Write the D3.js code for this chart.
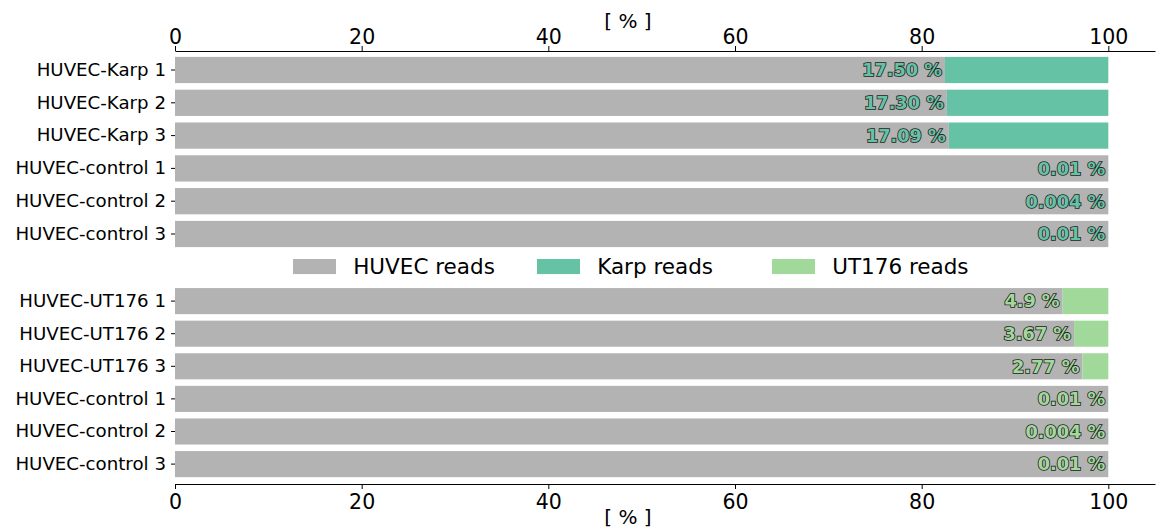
<!DOCTYPE html>
<html><head><meta charset="utf-8">
<script src="https://cdn.jsdelivr.net/npm/d3@7"></script>
<style>
body{margin:0;background:#fff;}
svg{display:block;font-family:"DejaVu Sans",sans-serif;}
</style></head>
<body><svg id="chart" width="1170" height="532"></svg>
<script>
const topCategories = ["HUVEC-Karp 1","HUVEC-Karp 2","HUVEC-Karp 3","HUVEC-control 1","HUVEC-control 2","HUVEC-control 3"];
const karpValues = [17.50, 17.30, 17.09, 0.01, 0.004, 0.01];
const karpLabels = ["17.50 %","17.30 %","17.09 %","0.01 %","0.004 %","0.01 %"];
const bottomCategories = ["HUVEC-UT176 1","HUVEC-UT176 2","HUVEC-UT176 3","HUVEC-control 1","HUVEC-control 2","HUVEC-control 3"];
const ut176Values = [4.9, 3.67, 2.77, 0.01, 0.004, 0.01];
const ut176Labels = ["4.9 %","3.67 %","2.77 %","0.01 %","0.004 %","0.01 %"];
const xTicks = [0, 20, 40, 60, 80, 100];
const legendLabels = ["HUVEC reads","Karp reads","UT176 reads"];

const colHuvec = "#b3b3b3", colKarp = "#66c2a5", colUT = "#a1d99b";
const svg = d3.select("#chart");
const x = d3.scaleLinear().domain([0, 105]).range([175, 1155]);

function panel(cats, vals, labels, color, yRange, axisY, axisTop) {
  const y = d3.scaleBand().domain(cats).range(yRange).paddingInner(0.2).paddingOuter(0.1);
  const g = svg.append("g");
  cats.forEach((c, i) => {
    const v = vals[i];
    const h = 100 - v;
    g.append("rect").attr("x", x(0)).attr("y", y(c)).attr("width", x(h) - x(0)).attr("height", y.bandwidth()).attr("fill", colHuvec);
    g.append("rect").attr("x", x(h)).attr("y", y(c)).attr("width", x(100) - x(h)).attr("height", y.bandwidth()).attr("fill", color);
    g.append("text").attr("x", x(h) - 3).attr("y", y(c) + y.bandwidth() / 2).attr("dy", "0.36em")
      .attr("text-anchor", "end").attr("font-weight", "bold").attr("font-size", 17.7)
      .attr("fill", color).attr("stroke", "#222").attr("stroke-width", 1.6).attr("paint-order", "stroke")
      .text(labels[i]);
  });
  const yAxis = d3.axisLeft(y).tickSize(4).tickPadding(5);
  const ya = svg.append("g").attr("transform", `translate(${x(0)},0)`).call(yAxis);
  ya.select(".domain").remove();
  ya.selectAll("text").attr("font-size", 18.2).attr("font-family", "DejaVu Sans").attr("fill", "#000");
  ya.selectAll("line").attr("stroke", "#000");
  const xAxis = (axisTop ? d3.axisTop(x) : d3.axisBottom(x)).tickValues(xTicks).tickSize(5).tickPadding(axisTop ? 2 : 5).tickSizeOuter(0);
  const xa = svg.append("g").attr("transform", `translate(0,${axisY})`).call(xAxis);
  xa.selectAll("text").attr("font-size", 20.5).attr("font-family", "DejaVu Sans").attr("fill", "#000");
  xa.select(".domain").attr("stroke", "#000").attr("stroke-width", 1.2);
  xa.selectAll("line").attr("stroke", "#000");
  svg.append("text").attr("x", 628).attr("y", axisTop ? 28 : 524).attr("text-anchor", "middle")
    .attr("font-size", 20).attr("fill", "#000").text("[ % ]");
}

panel(topCategories, karpValues, karpLabels, colKarp, [53.6, 250.4], 51, true);
panel(bottomCategories, ut176Values, ut176Labels, colUT, [284.8, 480.4], 484, false);

// legend
const lg = svg.append("g");
const legendColors = [colHuvec, colKarp, colUT];
const legendX = [293, 537, 772];
const fs = 21.5;
legendLabels.forEach((t, i) => {
  const lx = legendX[i];
  lg.append("rect").attr("x", lx).attr("y", 259).attr("width", 2 * fs).attr("height", 0.7 * fs).attr("fill", legendColors[i]);
  lg.append("text").attr("x", lx + 2 * fs + 0.8 * fs).attr("y", 266.5).attr("dy", "0.36em")
    .attr("font-size", fs).attr("fill", "#000").text(t);
});
</script></body></html>
